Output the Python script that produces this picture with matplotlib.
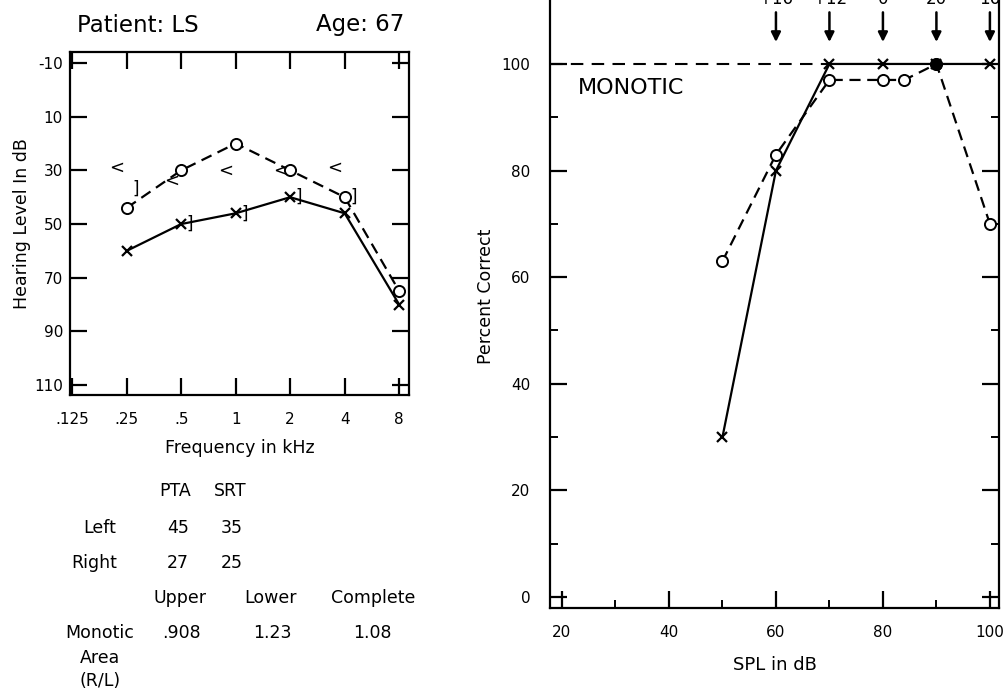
import numpy as np
import matplotlib
matplotlib.use('Agg')
import matplotlib.pyplot as plt

plt.rcParams['font.family'] = ['DejaVu Sans']

# audiogram data
freq_labels = ['.125', '.25', '.5', '1', '2', '4', '8']
freq_ticks = [0.125, 0.25, 0.5, 1, 2, 4, 8]
db_ticks = [-10, 10, 30, 50, 70, 90, 110]
ac_freqs = [0.25, 0.5, 1, 2, 4, 8]
right_ac = [44, 30, 20, 30, 40, 75]     # O, dashed
left_ac = [60, 50, 46, 40, 46, 80]      # X, solid
bc_freqs = [0.25, 0.5, 1, 2, 4]
right_bc = [29, 34, 30, 30, 29]         # <
left_bc = [37, 50, 46, 40, 40]          # ]

# monotic performance-intensity data
spl_x = [50, 60, 70, 80, 90, 100]
pct_x = [30, 80, 100, 100, 100, 100]
spl_o = [50, 60, 70, 80, 84, 90, 100]
pct_o = [63, 83, 97, 97, 97, 100, 70]
arrow_spl = [60, 70, 80, 90, 100]
arrow_labels = ['+16', '+12', '0', '20', '16']
ref_level = 100
ref_end = 70

W, H = 1004, 691
fig = plt.figure(figsize=(W / 100, H / 100), dpi=100)

def fx(px):
    return px / W

def fy(py):
    return 1 - py / H

# ---------- left: audiogram ----------
ax1 = fig.add_axes([fx(70), fy(395), fx(409) - fx(70), fy(52) - fy(395)])
ax1.set_xscale('log', base=2)
ax1.plot(ac_freqs, right_ac, 'k--', lw=1.6, dashes=(5, 3), marker='o', ms=8,
         mfc='white', mec='k', mew=1.4)
ax1.plot(ac_freqs, left_ac, 'k-', lw=1.6, marker='x', ms=7, mew=1.6)
for f, v in zip(bc_freqs, right_bc):
    ax1.text(f * 2 ** -0.18, v, '<', ha='center', va='center', fontsize=13)
for f, v in zip(bc_freqs, left_bc):
    ax1.text(f * 2 ** 0.16, v, ']', ha='center', va='center', fontsize=12)
ax1.set_xlim(0.125 * 2 ** -0.04, 0.125 * 2 ** 6.18)
ax1.set_ylim(113.7, -14.1)
ax1.set_xticks(freq_ticks)
ax1.set_xticklabels(freq_labels)
ax1.minorticks_off()
ax1.set_yticks(db_ticks)
ax1.set_yticklabels([str(v) for v in db_ticks])
ax1.tick_params(direction='in', length=12, width=1.6, top=True, right=True,
                labelsize=11)
ax1.tick_params(axis='x', pad=12)
ax1.tick_params(axis='y', pad=5)
for s in ax1.spines.values():
    s.set_linewidth(1.6)
ax1.set_xlabel('Frequency in kHz', fontsize=12.5, labelpad=9)
ax1.set_ylabel('Hearing Level In dB', fontsize=12.5, labelpad=2)

fig.text(fx(138), fy(25), 'Patient: LS', ha='center', va='center', fontsize=16.5)
fig.text(fx(404), fy(25), 'Age: 67', ha='right', va='center', fontsize=16.5)

# table under the audiogram
tfs = 12.5
cells = [
    ('PTA', 175, 491), ('SRT', 230, 491),
    ('Left', 100, 528), ('45', 178, 528), ('35', 232, 528),
    ('Right', 94, 563), ('27', 178, 563), ('25', 232, 563),
    ('Upper', 180, 598), ('Lower', 271, 598), ('Complete', 373, 598),
    ('Monotic', 100, 633), ('.908', 181, 633), ('1.23', 272, 633),
    ('1.08', 372, 633),
    ('Area', 100, 658), ('(R/L)', 100, 681),
]
for txt, px, py in cells:
    fig.text(fx(px), fy(py), txt, ha='center', va='center', fontsize=tfs)

# ---------- right: monotic PI function ----------
ylo, yhi = -2.06, 115
ax2 = fig.add_axes([fx(550), fy(608), fx(999) - fx(550), (1 + 16 / H) - fy(608)])
ax2.set_xlim(17.76, 101.7)
ax2.set_ylim(ylo, yhi)
ax2.hlines(ref_level, 17.76, ref_end, colors='k', linestyles=(0, (6, 4)), lw=1.5)
ax2.plot(spl_o, pct_o, 'k--', lw=1.6, dashes=(5, 3), marker='o', ms=8,
         mfc='white', mec='k', mew=1.4, zorder=3)
ax2.plot(spl_x, pct_x, 'k-', lw=1.6, marker='x', ms=7, mew=1.6, zorder=4)
# the 90 dB point where both coincide looks filled
ax2.plot([spl_o[5]], [pct_o[5]], 'ko', ms=8, zorder=5)
for xa, lab in zip(arrow_spl, arrow_labels):
    ax2.annotate('', xy=(xa, 103.6), xytext=(xa, 110.2),
                 arrowprops=dict(arrowstyle='-|>', color='k', lw=1.8,
                                 mutation_scale=14))
    # labels sit mostly above the cropped top edge, as in the source
    ax2.text(xa, 111.2, lab, ha='center', va='baseline', fontsize=12,
             clip_on=False)
ax2.text(0.062, 0.833, 'MONOTIC', transform=ax2.transAxes, fontsize=16,
         va='center', ha='left')
ax2.set_xticks([20, 40, 60, 80, 100])
ax2.set_xticks([30, 50, 70, 90], minor=True)
ax2.set_yticks([0, 20, 40, 60, 80, 100])
ax2.set_yticks([10, 30, 50, 70, 90], minor=True)
ax2.tick_params(which='major', direction='in', length=12, width=1.6,
                right=True, labelsize=11)
ax2.tick_params(axis='x', which='major', pad=12)
ax2.tick_params(axis='y', which='major', pad=14)
ax2.tick_params(which='minor', direction='in', length=6, width=1.4, right=True)
for s in ax2.spines.values():
    s.set_linewidth(1.6)
ax2.set_xlabel('SPL in dB', fontsize=13, labelpad=12)
ax2.set_ylabel('Percent Correct', fontsize=12.5, labelpad=5)

fig.savefig('out.png', dpi=100)
